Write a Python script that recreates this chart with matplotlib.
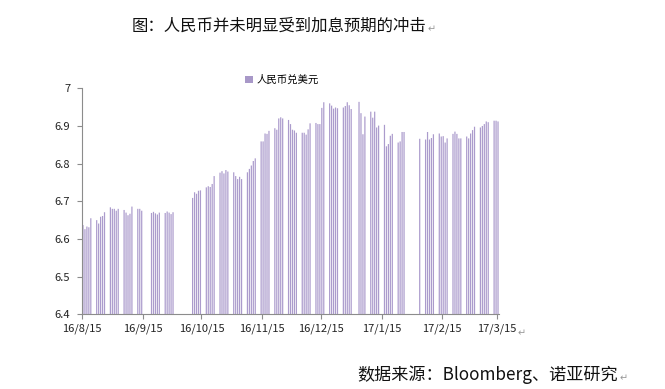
import matplotlib
matplotlib.use("Agg")
import matplotlib.pyplot as plt
from matplotlib.patches import Patch
import datetime as dt

plt.rcParams['font.family'] = ['Noto Sans CJK SC', 'DejaVu Sans']

# ---- data ----
dates = [
    "2016-08-15", "2016-08-16", "2016-08-17", "2016-08-18", "2016-08-19",
    "2016-08-22", "2016-08-23", "2016-08-24", "2016-08-25", "2016-08-26",
    "2016-08-29", "2016-08-30", "2016-08-31", "2016-09-01", "2016-09-02",
    "2016-09-05", "2016-09-06", "2016-09-07", "2016-09-08", "2016-09-09",
    "2016-09-12", "2016-09-13", "2016-09-14",
    "2016-09-19", "2016-09-20", "2016-09-21", "2016-09-22", "2016-09-23",
    "2016-09-26", "2016-09-27", "2016-09-28", "2016-09-29", "2016-09-30",
    "2016-10-10", "2016-10-11", "2016-10-12", "2016-10-13", "2016-10-14",
    "2016-10-17", "2016-10-18", "2016-10-19", "2016-10-20", "2016-10-21",
    "2016-10-24", "2016-10-25", "2016-10-26", "2016-10-27", "2016-10-28",
    "2016-10-31", "2016-11-01", "2016-11-02", "2016-11-03", "2016-11-04",
    "2016-11-07", "2016-11-08", "2016-11-09", "2016-11-10", "2016-11-11",
    "2016-11-14", "2016-11-15", "2016-11-16", "2016-11-17", "2016-11-18",
    "2016-11-21", "2016-11-22", "2016-11-23", "2016-11-24", "2016-11-25",
    "2016-11-28", "2016-11-29", "2016-11-30", "2016-12-01", "2016-12-02",
    "2016-12-05", "2016-12-06", "2016-12-07", "2016-12-08", "2016-12-09",
    "2016-12-12", "2016-12-13", "2016-12-14", "2016-12-15", "2016-12-16",
    "2016-12-19", "2016-12-20", "2016-12-21", "2016-12-22", "2016-12-23",
    "2016-12-26", "2016-12-27", "2016-12-28", "2016-12-29", "2016-12-30",
    "2017-01-03", "2017-01-04", "2017-01-05", "2017-01-06",
    "2017-01-09", "2017-01-10", "2017-01-11", "2017-01-12", "2017-01-13",
    "2017-01-16", "2017-01-17", "2017-01-18", "2017-01-19", "2017-01-20",
    "2017-01-23", "2017-01-24", "2017-01-25", "2017-01-26",
    "2017-02-03",
    "2017-02-06", "2017-02-07", "2017-02-08", "2017-02-09", "2017-02-10",
    "2017-02-13", "2017-02-14", "2017-02-15", "2017-02-16", "2017-02-17",
    "2017-02-20", "2017-02-21", "2017-02-22", "2017-02-23", "2017-02-24",
    "2017-02-27", "2017-02-28", "2017-03-01", "2017-03-02", "2017-03-03",
    "2017-03-06", "2017-03-07", "2017-03-08", "2017-03-09", "2017-03-10",
    "2017-03-13", "2017-03-14", "2017-03-15",
]

usdcny = [
    6.637, 6.626, 6.633, 6.631, 6.655,
    6.650, 6.641, 6.659, 6.661, 6.671,
    6.684, 6.680, 6.680, 6.675, 6.680,
    6.677, 6.670, 6.663, 6.667, 6.686,
    6.680, 6.680, 6.675,
    6.669, 6.672, 6.668, 6.665, 6.670,
    6.669, 6.673, 6.670, 6.666, 6.671,
    6.709, 6.724, 6.720, 6.728, 6.729,
    6.737, 6.740, 6.738, 6.746, 6.767,
    6.776, 6.780, 6.774, 6.783, 6.779,
    6.777, 6.767, 6.759, 6.765, 6.759,
    6.777, 6.786, 6.795, 6.807, 6.814,
    6.859, 6.859, 6.880, 6.879, 6.887,
    6.894, 6.890, 6.920, 6.923, 6.920,
    6.916, 6.905, 6.890, 6.888, 6.882,
    6.882, 6.882, 6.877, 6.891, 6.907,
    6.908, 6.905, 6.905, 6.948, 6.963,
    6.960, 6.954, 6.946, 6.949, 6.947,
    6.949, 6.953, 6.963, 6.955, 6.945,
    6.964, 6.934, 6.878, 6.925,
    6.938, 6.922, 6.938, 6.896, 6.901,
    6.903, 6.846, 6.852, 6.874, 6.879,
    6.856, 6.859, 6.884, 6.884,
    6.866,
    6.864, 6.884, 6.864, 6.868, 6.878,
    6.880, 6.872, 6.873, 6.856, 6.867,
    6.879, 6.885, 6.879, 6.867, 6.867,
    6.872, 6.867, 6.880, 6.889, 6.898,
    6.896, 6.900, 6.905, 6.912, 6.910,
    6.914, 6.914, 6.912,
]

tick_dates = ["2016-08-15", "2016-09-15", "2016-10-15", "2016-11-15",
              "2016-12-15", "2017-01-15", "2017-02-15", "2017-03-15"]
tick_labels = ["16/8/15", "16/9/15", "16/10/15", "16/11/15",
               "16/12/15", "17/1/15", "17/2/15", "17/3/15"]
y_ticks = [6.4, 6.5, 6.6, 6.7, 6.8, 6.9, 7.0]
y_tick_labels = ["6.4", "6.5", "6.6", "6.7", "6.8", "6.9", "7"]

series_name = "人民币兑美元"
title = "图：人民币并未明显受到加息预期的冲击"
source = "数据来源：Bloomberg、诺亚研究"

assert len(dates) == len(usdcny)

# ---- plot ----
W, H = 665, 389
fig = plt.figure(figsize=(W / 100, H / 100), dpi=100)
ax = fig.add_axes([82 / W, 1 - 314.3 / H, (499 - 82) / W, (314.3 - 88.3) / H])

bar_color = "#AB9BCC"
d_parsed = [dt.datetime.strptime(d, "%Y-%m-%d") + dt.timedelta(hours=12) for d in dates]
bars = ax.bar(d_parsed, usdcny, width=0.62, color=bar_color, linewidth=0)
for b in bars:
    b.set_snap(False)

ax.set_ylim(6.4, 7.0)
ax.set_yticks(y_ticks)
ax.set_yticklabels(y_tick_labels)
x0 = dt.datetime(2016, 8, 15)
x1 = dt.datetime(2017, 3, 16)
ax.set_xlim(x0, x1)
ax.set_xticks([dt.datetime.strptime(d, "%Y-%m-%d") for d in tick_dates])
ax.set_xticklabels(tick_labels)

axis_gray = "#8C8C8C"
for s in ("top", "right"):
    ax.spines[s].set_visible(False)
for s in ("left", "bottom"):
    ax.spines[s].set_color(axis_gray)
    ax.spines[s].set_linewidth(0.8)
ax.tick_params(axis="both", colors=axis_gray, labelcolor="#222222",
               labelsize=8, length=3.5, width=0.8)
ax.tick_params(axis="y", pad=5)
ax.tick_params(axis="x", pad=3)

handle = Patch(facecolor="#A898C8", edgecolor="none")
fig.legend([handle], [series_name], loc="center left",
           bbox_to_anchor=(245 / W, 1 - 80 / H), frameon=False,
           fontsize=7.5, handlelength=0.75, handleheight=0.75,
           handletextpad=0.35, borderpad=0, borderaxespad=0)

fig.text(132 / W, 1 - 26.5 / H, title, fontsize=11.8, color="#111111",
         va="center", ha="left")
fig.text(428 / W, 1 - 29 / H, "\u21b5", fontsize=7, color="#999999",
         va="center", ha="left", family="DejaVu Sans")

fig.text(357 / W, 1 - 375 / H, source, fontsize=12.3, color="#111111",
         va="center", ha="left")
fig.text(620 / W, 1 - 378 / H, "\u21b5", fontsize=7, color="#999999",
         va="center", ha="left", family="DejaVu Sans")
fig.text(518 / W, 1 - 333 / H, "\u21b5", fontsize=7, color="#999999",
         va="center", ha="left", family="DejaVu Sans")

fig.savefig("out.png", dpi=100)
